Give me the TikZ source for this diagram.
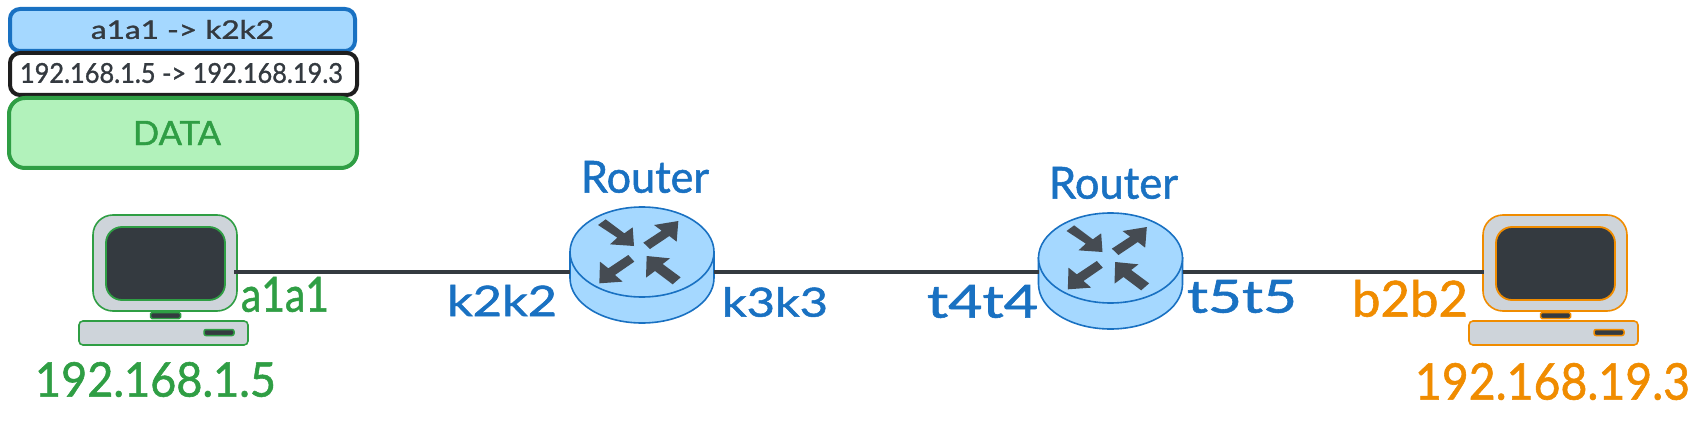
\documentclass[tikz,border=0pt]{standalone}
\usepackage{graphicx}
\usepackage{fontspec}
\setmainfont{Lato}
\newfontfamily\medfont[FakeBold=1.2]{Lato}
\usetikzlibrary{shapes.geometric}
\definecolor{cblue}{HTML}{1971C2}
\definecolor{lblue}{HTML}{A5D8FF}
\definecolor{cgreen}{HTML}{2F9E44}
\definecolor{lgreen}{HTML}{B2F2BB}
\definecolor{corange}{HTML}{F08C00}
\definecolor{cgrey}{HTML}{CED4DA}
\definecolor{cdark}{HTML}{343A40}
\definecolor{cink}{HTML}{1E1E1E}
\definecolor{carrow}{HTML}{454B52}
\tikzset{
  plain/.style={inner sep=0pt,outer sep=0pt},
  packetbox/.style={plain,draw=#1,line width=4pt},
  netline/.style={draw=cdark,line width=4pt},
  part/.style={draw=#1,fill=cgrey,line width=1.6pt,plain},
  darkpart/.style={draw=#1,fill=cdark,line width=1.8pt,plain},
  routerpart/.style={draw=cblue,fill=lblue,line width=1.6pt,plain},
  routerarrow/.style={fill=carrow},
}
% name, x1,y1,x2,y2, colour, text: the text is fitted to the extent of the original
\newcommand{\fittext}[7]{%
  \pgfmathsetmacro{\fitw}{#4-#2}\pgfmathsetmacro{\fith}{#5-#3}%
  \pgfmathsetmacro{\fitx}{(#4+#2)/2}\pgfmathsetmacro{\fity}{(#5+#3)/2}%
  \node[plain,text=#6] (#1) at (\fitx,\fity) {\resizebox*{\fitw pt}{\fith pt}{\medfont #7}};}
\newcommand{\computer}[3]{% name, dx, colour
  \begin{scope}[shift={(#2,0)}]
    \node[part=#3,rounded corners=20pt,minimum width=144pt,minimum height=96pt] (#1) at (165,263) {};
    \node[darkpart=#3,rounded corners=16pt,minimum width=119pt,minimum height=73pt] (#1screen) at (165.5,263.5) {};
    \node[darkpart=#3,rounded corners=1.5pt,line width=1.5pt,minimum width=30pt,minimum height=6pt] (#1stand) at (165.5,315.5) {};
    \node[part=#3,rounded corners=4pt,minimum width=169pt,minimum height=24pt] (#1base) at (163.5,333) {};
    \node[darkpart=#3,rounded corners=2pt,line width=1.5pt,minimum width=30pt,minimum height=6pt] (#1slot) at (219,332.5) {};
  \end{scope}}
\newcommand{\router}[3]{% name, cx, cy
  \begin{scope}[shift={(#2,#3)}]
    \path[routerpart] (-72,0) -- (-72,26) .. controls (-72,51) and (-40,71) .. (0,71)
       .. controls (40,71) and (72,51) .. (72,26) -- (72,0) -- cycle;
    \node[routerpart,ellipse,minimum width=144pt,minimum height=90pt] (#1) at (0,0) {};
    \begin{scope}[x=.3333pt,y=-.3333pt]
      \fill[routerarrow] (-109,-98) -- (-53,-56) -- (-28,-74) -- (-24,-18) -- (-96,-23) -- (-74,-43) -- (-132,-81) -- cycle;
      \fill[routerarrow] (4,-28) -- (59,-64) -- (36,-81) -- (109,-93) -- (104,-31) -- (82,-48) -- (24,-9) -- cycle;
      \fill[routerarrow] (-41,9) -- (-101,49) -- (-126,29) -- (-128,94) -- (-58,89) -- (-81,69) -- (-23,29) -- cycle;
      \fill[routerarrow] (116,76) -- (62,36) -- (84,19) -- (14,12) -- (12,77) -- (39,57) -- (92,97) -- cycle;
    \end{scope}
  \end{scope}}
\begin{document}
\begin{tikzpicture}[x=1pt,y=-1pt]
  \useasboundingbox (0,0) rectangle (1701,425);
  \fill[white] (0,0) rectangle (1701,425);

  % packet stack
  \node[packetbox=cblue,fill=lblue,rounded corners=10pt,minimum width=345pt,minimum height=42pt] (frame) at (182.5,30) {};
  \node[packetbox=cink,fill=white,rounded corners=10pt,minimum width=347pt,minimum height=42pt] (ippkt) at (183.5,74) {};
  \node[packetbox=cgreen,fill=lgreen,rounded corners=16pt,minimum width=348pt,minimum height=70pt] (data) at (183,133) {};
  \fittext{frametext}{91}{20}{274}{39}{cdark}{a1a1 -> k2k2}
  \fittext{iptext}{20}{63}{343}{83}{cdark}{192.168.1.5 -> 192.168.19.3}
  \fittext{datatext}{133}{121}{221}{145}{cgreen}{DATA}

  % devices
  \computer{pcA}{0}{cgreen}
  \computer{pcB}{1390}{corange}
  \router{rtA}{642}{252}
  \router{rtB}{1110.5}{258}

  % connectors
  \coordinate (pcAport) at (234,271.7);
  \coordinate (pcBport) at (1484,271.7);
  \coordinate (rtAw) at (rtA.west |- pcAport);
  \coordinate (rtAe) at (rtA.east |- pcAport);
  \coordinate (rtBw) at (rtB.west |- pcAport);
  \coordinate (rtBe) at (rtB.east |- pcAport);
  \draw[netline] (pcAport) -- (rtAw);
  \draw[netline] (rtAe) -- (rtBw);
  \draw[netline] (rtBe) -- (pcBport);

  % labels
  \fittext{aaddr}{241}{277}{329}{312}{cgreen}{a1a1}
  \fittext{aip}{35}{362}{276}{397}{cgreen}{192.168.1.5}
  \fittext{rtAname}{581}{161}{709}{193}{cblue}{Router}
  \fittext{kleft}{447}{285}{557}{316}{cblue}{k2k2}
  \fittext{kright}{722}{287}{828}{317}{cblue}{k3k3}
  \fittext{rtBname}{1049}{167}{1178}{199}{cblue}{Router}
  \fittext{tleft}{927}{285}{1038}{318}{cblue}{t4t4}
  \fittext{tright}{1187}{280}{1297}{313}{cblue}{t5t5}
  \fittext{baddr}{1352}{280}{1468}{317}{corange}{b2b2}
  \fittext{bip}{1415}{363}{1690}{400}{corange}{192.168.19.3}
\end{tikzpicture}
\end{document}
